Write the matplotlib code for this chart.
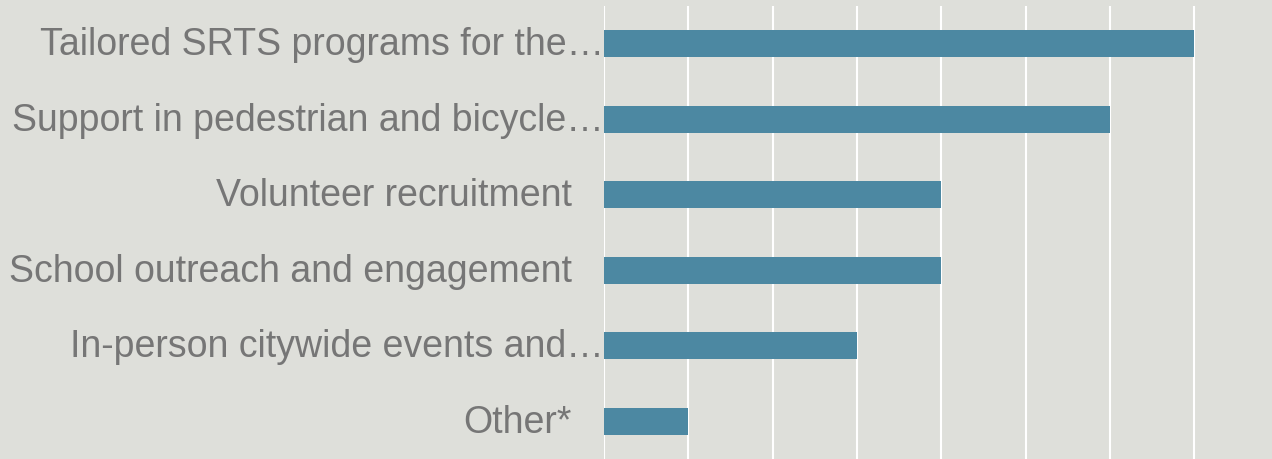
import numpy as np
import matplotlib.pyplot as plt

labels = ['Tailored SRTS programs for the\u2026',
          'Support in pedestrian and bicycle\u2026',
          'Volunteer recruitment',
          'School outreach and engagement',
          'In-person citywide events and\u2026',
          'Other*']
values = [7, 6, 4, 4, 3, 1]
truncated = [True, True, False, False, True, False]

bg = '#DEDFDA'
bar_color = '#4C88A2'
text_color = '#767676'

plt.rcParams['font.family'] = ['Liberation Sans', 'DejaVu Sans']

fig = plt.figure(figsize=(12.72, 4.59), dpi=100, facecolor=bg)
ax = fig.add_axes([604 / 1272, 0, 1 - 604 / 1272, 453 / 459])
ax.set_facecolor(bg)

y = np.arange(len(labels))
ax.barh(y, values, height=0.355, color=bar_color, zorder=3)

ax.set_xlim(0, 7.92)
ax.set_ylim(len(labels) - 0.5, -0.5)
ax.set_xticks(np.arange(0, 8))
ax.xaxis.grid(True, color='white', linewidth=1.5, zorder=0)
ax.tick_params(axis='both', length=0, labelbottom=False, labelleft=False)
for s in ax.spines.values():
    s.set_visible(False)

# category labels: truncated ones sit right against the axis
for yi, lab, tr in zip(y, labels, truncated):
    off = 0 if tr else -32
    ax.annotate(lab, xy=(0, yi), xycoords=('axes fraction', 'data'),
                xytext=(off * 0.72, -1), textcoords='offset points',
                ha='right', va='center', fontsize=27, color=text_color)

fig.savefig('out.png', dpi=100, facecolor=bg)
